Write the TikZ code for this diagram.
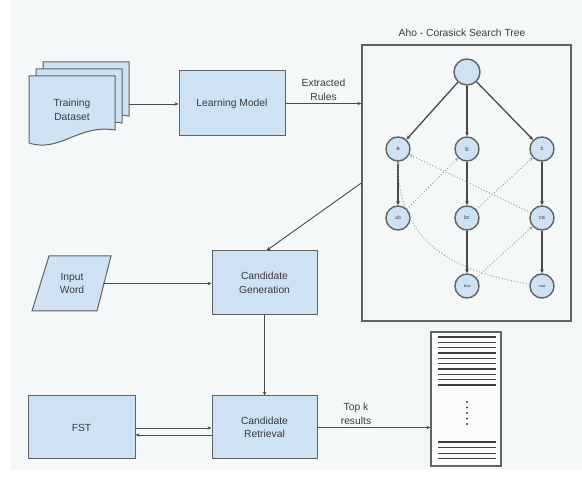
\documentclass[tikz,border=0pt]{standalone}
\usepackage{fontspec}
\setmainfont{Liberation Sans}
\usetikzlibrary{arrows.meta}
\definecolor{bgc}{HTML}{F5F8F8}
\definecolor{boxfill}{HTML}{CFE2F3}
\definecolor{bord}{HTML}{5F6366}
\definecolor{txt}{HTML}{3A3A3A}
\definecolor{arrc}{HTML}{4A4A4A}
\definecolor{dotc}{HTML}{A0A0A0}
\begin{document}
\begin{tikzpicture}[x=1pt,y=-1pt,
  box/.style={draw=bord, fill=boxfill, line width=1pt, align=center,
    text=txt, font=\fontsize{10.3}{13.5}\selectfont, inner sep=0pt},
  lbl/.style={text=txt, align=center, font=\fontsize{10.3}{13.5}\selectfont, inner sep=0pt},
  arr/.style={draw=arrc, line width=0.9pt, -{Stealth[length=4pt,width=3.4pt]}},
  tnode/.style={circle, draw=bord, fill=boxfill, line width=1.4pt, minimum size=24pt,
    inner sep=0pt, text=txt},
  tarr/.style={draw=arrc, line width=1.3pt, -{Stealth[length=4pt,width=3.6pt]}},
  darr/.style={draw=dotc, line width=1pt, dotted, -{Stealth[length=3.5pt,width=3.2pt]}},
  doc/.style={draw=bord, fill=boxfill, line width=1pt},
  rline/.style={draw=black!75, line width=1.3pt}]
\useasboundingbox (0,0) rectangle (582,486);
\fill[white] (0,0) rectangle (582,486);
\fill[bgc] (11,0) rectangle (582,470);

% Training dataset (stacked documents)
\foreach \dx in {14,7,0}{
  \draw[doc] (29+\dx,143-\dx) -- (29+\dx,76-\dx) -- (115+\dx,76-\dx) -- (115+\dx,130-\dx)
    .. controls (78+\dx,124-\dx) and (60+\dx,153-\dx) .. cycle;
}
\node[lbl] (td) at (72,110) {Training\\Dataset};
\coordinate (tdR) at (129,104);

% Learning model
\node[box, minimum width=106pt, minimum height=65pt] (lm) at (232,103.5) {Learning Model};

% Aho-Corasick tree
\node[draw=bord, line width=1.3pt, minimum width=209pt, minimum height=276pt, inner sep=0pt] (tree) at (466.5,183) {};
\node[lbl] (title) at (462,33) {Aho - Corasick Search Tree};

\node[tnode, minimum size=26pt] (root) at (467,72) {};
\node[tnode, font=\fontsize{6}{6}\selectfont] (a) at (398,149) {a};
\node[tnode, font=\fontsize{6}{6}\selectfont] (b) at (467,149) {b};
\node[tnode, font=\fontsize{6}{6}\selectfont] (c) at (542,149) {c};
\node[tnode, font=\fontsize{5}{5}\selectfont] (ab) at (398,218) {ab};
\node[tnode, font=\fontsize{5.5}{5.5}\selectfont] (bc) at (467,218) {bc};
\node[tnode, font=\fontsize{5.5}{5.5}\selectfont] (ca) at (542,218) {ca};
\node[tnode, font=\fontsize{4}{4}\selectfont] (bca) at (467,286) {bca};
\node[tnode, font=\fontsize{4}{4}\selectfont] (caa) at (542,286) {caa};

\draw[tarr] (root) -- (a);
\draw[tarr] (root) -- (b);
\draw[tarr] (root) -- (c);
\draw[tarr] (a) -- (ab);
\draw[tarr] (b) -- (bc);
\draw[tarr] (c) -- (ca);
\draw[tarr] (bc) -- (bca);
\draw[tarr] (ca) -- (caa);

\draw[darr] (ab) -- (b);
\draw[darr] (bc) -- (c);
\draw[darr] (ca) -- (a);
\draw[darr] (bca) -- (ca);
\draw[darr] (caa) .. controls (440,270) and (398,232) .. (a);

% Input word
\draw[doc] (49,256) -- (111,256) -- (97,311) -- (32,311) -- cycle;
\node[lbl] (iw) at (72,283.5) {Input\\Word};
\coordinate (iwR) at (103,283.5);

% Candidate boxes
\node[box, minimum width=105pt, minimum height=64pt] (cg) at (264.5,283) {Candidate\\Generation};
\node[box, minimum width=105pt, minimum height=63pt] (cr) at (264.5,427.5) {Candidate\\Retrieval};
\node[box, minimum width=107pt, minimum height=63pt] (fst) at (81.5,427.5) {FST};

% Results list
\node[draw=bord, fill=white!60!bgc, line width=1.1pt, minimum width=70pt, minimum height=134pt, inner sep=0pt] (list) at (466,399) {};
\foreach \k in {0,...,9}{
  \draw[rline] (438,337+5.33*\k) -- (496,337+5.33*\k);
}
\foreach \k in {0,...,3}{
  \draw[rline] (438,442+5.6*\k) -- (496,442+5.6*\k);
}
\foreach \k in {0,...,4}{
  \fill[black!75] (467,402+5.5*\k) circle (1.1pt);
}

% Connectors
\draw[arr] (tdR) -- (lm.west |- tdR);
\draw[arr] (lm.east) -- (lm.east -| tree.west);
\node[lbl] (er) at (323.5,90) {Extracted\\Rules};
\draw[arr] (tree.west) -- ([xshift=2pt]cg.north);
\draw[arr] (iwR) -- (iwR -| cg.west);
\draw[arr] (cg.south) -- (cr.north);
\draw[arr] ([yshift=-0.5pt]fst.east) -- ([yshift=-0.5pt]cr.west);
\draw[arr] ([yshift=-7.5pt]cr.west) -- ([yshift=-7.5pt]fst.east);
\draw[arr] (cr.east) -- (cr.east -| list.west);
\node[lbl] (tk) at (356,414) {Top k\\results};
\end{tikzpicture}
\end{document}
